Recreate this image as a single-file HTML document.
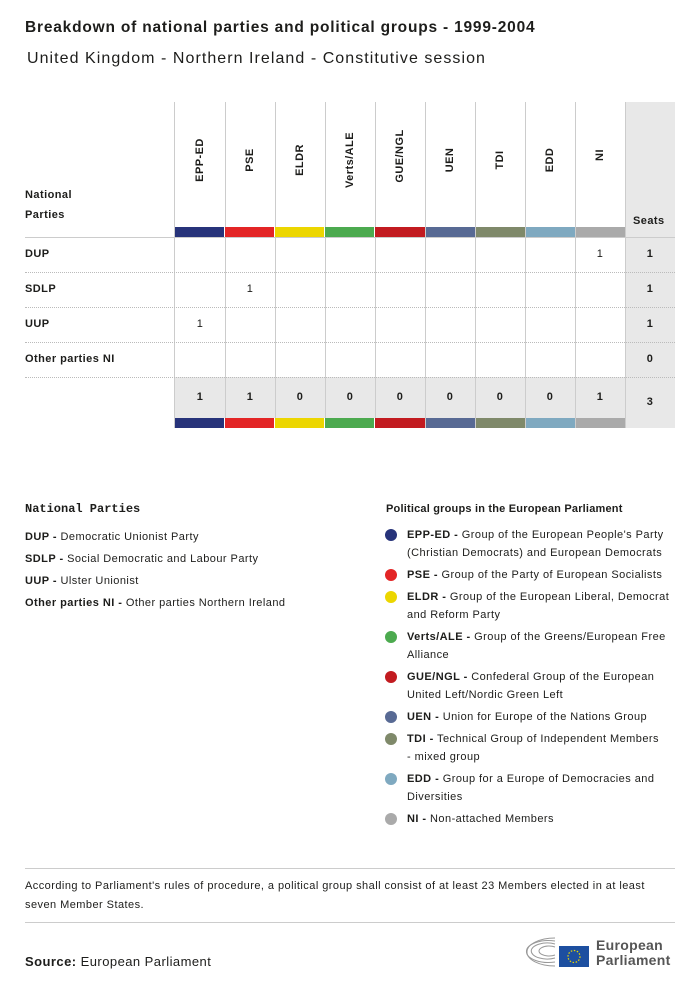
<!DOCTYPE html>
<html><head><meta charset="utf-8"><style>
*{margin:0;padding:0;box-sizing:border-box}
body{width:700px;height:987px;background:#fff;font-family:"Liberation Sans",sans-serif;color:#1d1d1b;position:relative;overflow:hidden;letter-spacing:0.45px}
.a{position:absolute}
.b{font-weight:bold}
.vl{position:absolute;top:102px;height:326px;width:1px;background:#ccc}
.rot{position:absolute;transform:rotate(-90deg);transform-origin:center;font-size:11px;font-weight:bold;white-space:nowrap;width:80px;text-align:center}
.hr{position:absolute;left:25px;width:650px;border-top:1px dotted #bbb}
.c{position:absolute;width:50px;text-align:center;font-size:11px}
.lg{position:absolute;left:386px;font-size:11px;line-height:18px;width:292px}
.dot{position:absolute;left:-1px;width:12px;height:12px;border-radius:50%}
.lt{padding-left:21px}
</style></head><body>
<div class="a b" style="left:25px;top:19px;font-size:15.5px;letter-spacing:0.8px">Breakdown of national parties and political groups - 1999-2004</div>
<div class="a" style="left:27px;top:50px;font-size:16px;letter-spacing:1.05px">United Kingdom - Northern Ireland - Constitutive session</div>

<div class="a" style="left:625px;top:102px;width:50px;height:326px;background:#e8e8e8"></div>
<div class="a" style="left:175px;top:377px;width:450px;height:41px;background:#e8e8e8"></div>

<div class="vl" style="left:174px"></div><div class="vl" style="left:225px"></div><div class="vl" style="left:275px"></div><div class="vl" style="left:325px"></div><div class="vl" style="left:375px"></div><div class="vl" style="left:425px"></div><div class="vl" style="left:475px"></div><div class="vl" style="left:525px"></div><div class="vl" style="left:575px"></div><div class="vl" style="left:625px"></div>

<div class="rot" style="left:160px;top:154px">EPP-ED</div>
<div class="rot" style="left:210px;top:154px">PSE</div>
<div class="rot" style="left:260px;top:154px">ELDR</div>
<div class="rot" style="left:310px;top:154px">Verts/ALE</div>
<div class="rot" style="left:360px;top:150px">GUE/NGL</div>
<div class="rot" style="left:410px;top:154px">UEN</div>
<div class="rot" style="left:460px;top:154px">TDI</div>
<div class="rot" style="left:510px;top:154px">EDD</div>
<div class="rot" style="left:560px;top:149px">NI</div>

<div class="a b" style="left:25px;top:185px;font-size:11px;line-height:20px">National<br>Parties</div>
<div class="a b" style="left:633px;top:215px;font-size:11px">Seats</div>

<div class="a" style="left:175px;top:227px;width:450px;height:10px;display:flex">
<div style="flex:1;background:#27337a;margin-right:1px"></div><div style="flex:1;background:#e32526;margin-right:1px"></div><div style="flex:1;background:#ecd600;margin-right:1px"></div><div style="flex:1;background:#4caa4f;margin-right:1px"></div><div style="flex:1;background:#c21b20;margin-right:1px"></div><div style="flex:1;background:#586a94;margin-right:1px"></div><div style="flex:1;background:#7f896a;margin-right:1px"></div><div style="flex:1;background:#7fa9c0;margin-right:1px"></div><div style="flex:1;background:#aaa"></div></div>
<div class="a" style="left:175px;top:418px;width:450px;height:10px;display:flex">
<div style="flex:1;background:#27337a;margin-right:1px"></div><div style="flex:1;background:#e32526;margin-right:1px"></div><div style="flex:1;background:#ecd600;margin-right:1px"></div><div style="flex:1;background:#4caa4f;margin-right:1px"></div><div style="flex:1;background:#c21b20;margin-right:1px"></div><div style="flex:1;background:#586a94;margin-right:1px"></div><div style="flex:1;background:#7f896a;margin-right:1px"></div><div style="flex:1;background:#7fa9c0;margin-right:1px"></div><div style="flex:1;background:#aaa"></div></div>

<div class="a" style="left:25px;top:237px;width:650px;border-top:1px solid #ccc"></div>
<div class="hr" style="top:272px"></div><div class="hr" style="top:307px"></div><div class="hr" style="top:342px"></div><div class="hr" style="top:377px"></div>

<div class="a b" style="left:25px;top:248px;font-size:11px">DUP</div>
<div class="a b" style="left:25px;top:283px;font-size:11px">SDLP</div>
<div class="a b" style="left:25px;top:318px;font-size:11px">UUP</div>
<div class="a b" style="left:25px;top:353px;font-size:11px">Other parties NI</div>

<div class="c" style="left:575px;top:248px">1</div><div class="c b" style="left:625px;top:248px">1</div>
<div class="c" style="left:225px;top:283px">1</div><div class="c b" style="left:625px;top:283px">1</div>
<div class="c" style="left:175px;top:318px">1</div><div class="c b" style="left:625px;top:318px">1</div>
<div class="c b" style="left:625px;top:353px">0</div>

<div class="c b" style="left:175px;top:391px">1</div><div class="c b" style="left:225px;top:391px">1</div><div class="c b" style="left:275px;top:391px">0</div><div class="c b" style="left:325px;top:391px">0</div><div class="c b" style="left:375px;top:391px">0</div><div class="c b" style="left:425px;top:391px">0</div><div class="c b" style="left:475px;top:391px">0</div><div class="c b" style="left:525px;top:391px">0</div><div class="c b" style="left:575px;top:391px">1</div><div class="c b" style="left:625px;top:396px">3</div>

<div class="a b" style="left:25px;top:502px;font-size:12px;font-family:'Liberation Mono',monospace;letter-spacing:0">National Parties</div>
<div class="a" style="left:25px;top:526px;font-size:11px;line-height:22px">
<div><b>DUP -</b> Democratic Unionist Party</div>
<div><b>SDLP -</b> Social Democratic and Labour Party</div>
<div><b>UUP -</b> Ulster Unionist</div>
<div><b>Other parties NI -</b> Other parties Northern Ireland</div></div>

<div class="a b" style="left:386px;top:503px;font-size:11px;letter-spacing:0.2px">Political groups in the European Parliament</div>
<div class="lg" style="top:526px"><div class="dot" style="top:3px;background:#27337a"></div><div class="lt"><b>EPP-ED -</b> Group of the European People's Party (Christian Democrats) and European Democrats</div></div>
<div class="lg" style="top:566px"><div class="dot" style="top:3px;background:#e32526"></div><div class="lt"><b>PSE -</b> Group of the Party of European Socialists</div></div>
<div class="lg" style="top:588px"><div class="dot" style="top:3px;background:#ecd600"></div><div class="lt" style="white-space:nowrap;overflow:hidden"><b>ELDR -</b> Group of the European Liberal, Democrat<br>and Reform Party</div></div>
<div class="lg" style="top:628px"><div class="dot" style="top:3px;background:#4caa4f"></div><div class="lt"><b>Verts/ALE -</b> Group of the Greens/European Free<br>Alliance</div></div>
<div class="lg" style="top:668px"><div class="dot" style="top:3px;background:#c21b20"></div><div class="lt"><b>GUE/NGL -</b> Confederal Group of the European<br>United Left/Nordic Green Left</div></div>
<div class="lg" style="top:708px"><div class="dot" style="top:3px;background:#586a94"></div><div class="lt"><b>UEN -</b> Union for Europe of the Nations Group</div></div>
<div class="lg" style="top:730px"><div class="dot" style="top:3px;background:#7f896a"></div><div class="lt"><b>TDI -</b> Technical Group of Independent Members<br>- mixed group</div></div>
<div class="lg" style="top:770px"><div class="dot" style="top:3px;background:#7fa9c0"></div><div class="lt"><b>EDD -</b> Group for a Europe of Democracies and<br>Diversities</div></div>
<div class="lg" style="top:810px"><div class="dot" style="top:3px;background:#aaa"></div><div class="lt"><b>NI -</b> Non-attached Members</div></div>

<div class="a" style="left:25px;top:868px;width:650px;border-top:1px solid #ccc"></div>
<div class="a" style="left:25px;top:877px;font-size:11px;line-height:19px;width:650px">According to Parliament's rules of procedure, a political group shall consist of at least 23 Members elected in at least<br>seven Member States.</div>
<div class="a" style="left:25px;top:922px;width:650px;border-top:1px solid #ccc"></div>
<div class="a" style="left:25px;top:954px;font-size:13px"><b>Source:</b> European Parliament</div>

<svg class="a" style="left:525px;top:930px" width="66" height="40">
<g fill="none" stroke="#999" stroke-width="1">
<path d="M30 36 A28 14 0 1 1 30 8"/><path d="M30 32 A22 11 0 1 1 30 11"/><path d="M30 28 A16 8 0 1 1 30 14"/><path d="M30 25 A10 5 0 1 1 30 17"/></g>
<rect x="34" y="16" width="30" height="21" fill="#1d4fa0"/>
<circle cx="49" cy="26.5" r="6" fill="none" stroke="#ecd600" stroke-width="1.2" stroke-dasharray="1.5 1.6"/>
</svg>
<div class="a b" style="left:596px;top:938px;font-size:14px;line-height:15px;color:#555;letter-spacing:0.3px">European<br>Parliament</div>
</body></html>
